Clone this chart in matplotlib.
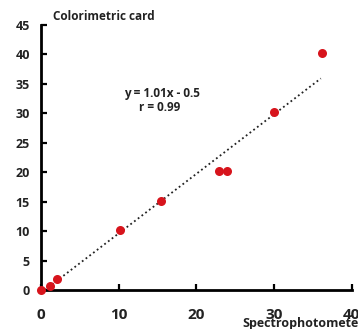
import matplotlib
matplotlib.use("Agg")
import matplotlib.pyplot as plt
import numpy as np

# ── Data ──────────────────────────────────────────────────────────────────────
spectro = [0, 1.2, 2.0, 10.2, 15.4, 22.9, 23.9, 30.0, 36.1]
card    = [0, 0.7, 1.9, 10.2, 15.1, 20.2, 20.2, 30.2, 40.2]
x_ticks = [0, 10, 20, 30, 40]
y_ticks = [0, 5, 10, 15, 20, 25, 30, 35, 40, 45]
slope, intercept = 1.01, -0.5
fit_x = [0, 36]

plt.rcParams["font.family"] = ["Open Sans", "DejaVu Sans"]

fig = plt.figure(figsize=(3.58, 3.29), dpi=100)
ax = fig.add_axes([0.1145, 0.1185, 0.8685, 0.807])

fx = np.array(fit_x, dtype=float)
ax.plot(fx, slope * fx + intercept, linestyle=(0, (1, 1.6)), color="#222222",
        linewidth=1.3, zorder=2)
ax.plot(spectro, card, "o", color="#d7141c", markersize=6.5,
        markeredgewidth=0, clip_on=False, zorder=3)

ax.set_xlim(0, 40)
ax.set_ylim(0, 45)
ax.set_xticks(x_ticks)
ax.set_yticks(y_ticks)
ax.tick_params(axis="both", direction="in", width=1.6, length=4, colors="black")
ax.tick_params(axis="x", pad=13, labelsize=11)
ax.tick_params(axis="y", pad=8, labelsize=9)
for lbl in ax.get_xticklabels() + ax.get_yticklabels():
    lbl.set_fontweight("bold")
    lbl.set_color("#222222")

for side in ("top", "right"):
    ax.spines[side].set_visible(False)
for side in ("left", "bottom"):
    ax.spines[side].set_linewidth(2)

# axis titles sit at the ends of the axes, as in the source figure
fig.text(53 / 358, 1 - 17 / 329, "Colorimetric card", fontsize=8.5,
         fontweight="bold", ha="left", va="center", color="#222222")
fig.text(242 / 358, 1 - 324 / 329, "Spectrophotometer", fontsize=9,
         fontweight="bold", ha="left", va="center", color="#222222")
fig.text(162 / 358, 1 - 93 / 329, f"y = {slope:.2f}x - {abs(intercept)}",
         fontsize=8.5, fontweight="bold", ha="center", va="center", color="#222222")
fig.text(160 / 358, 1 - 107 / 329, "r = 0.99",
         fontsize=8.5, fontweight="bold", ha="center", va="center", color="#222222")

fig.savefig("out.png", dpi=100)
